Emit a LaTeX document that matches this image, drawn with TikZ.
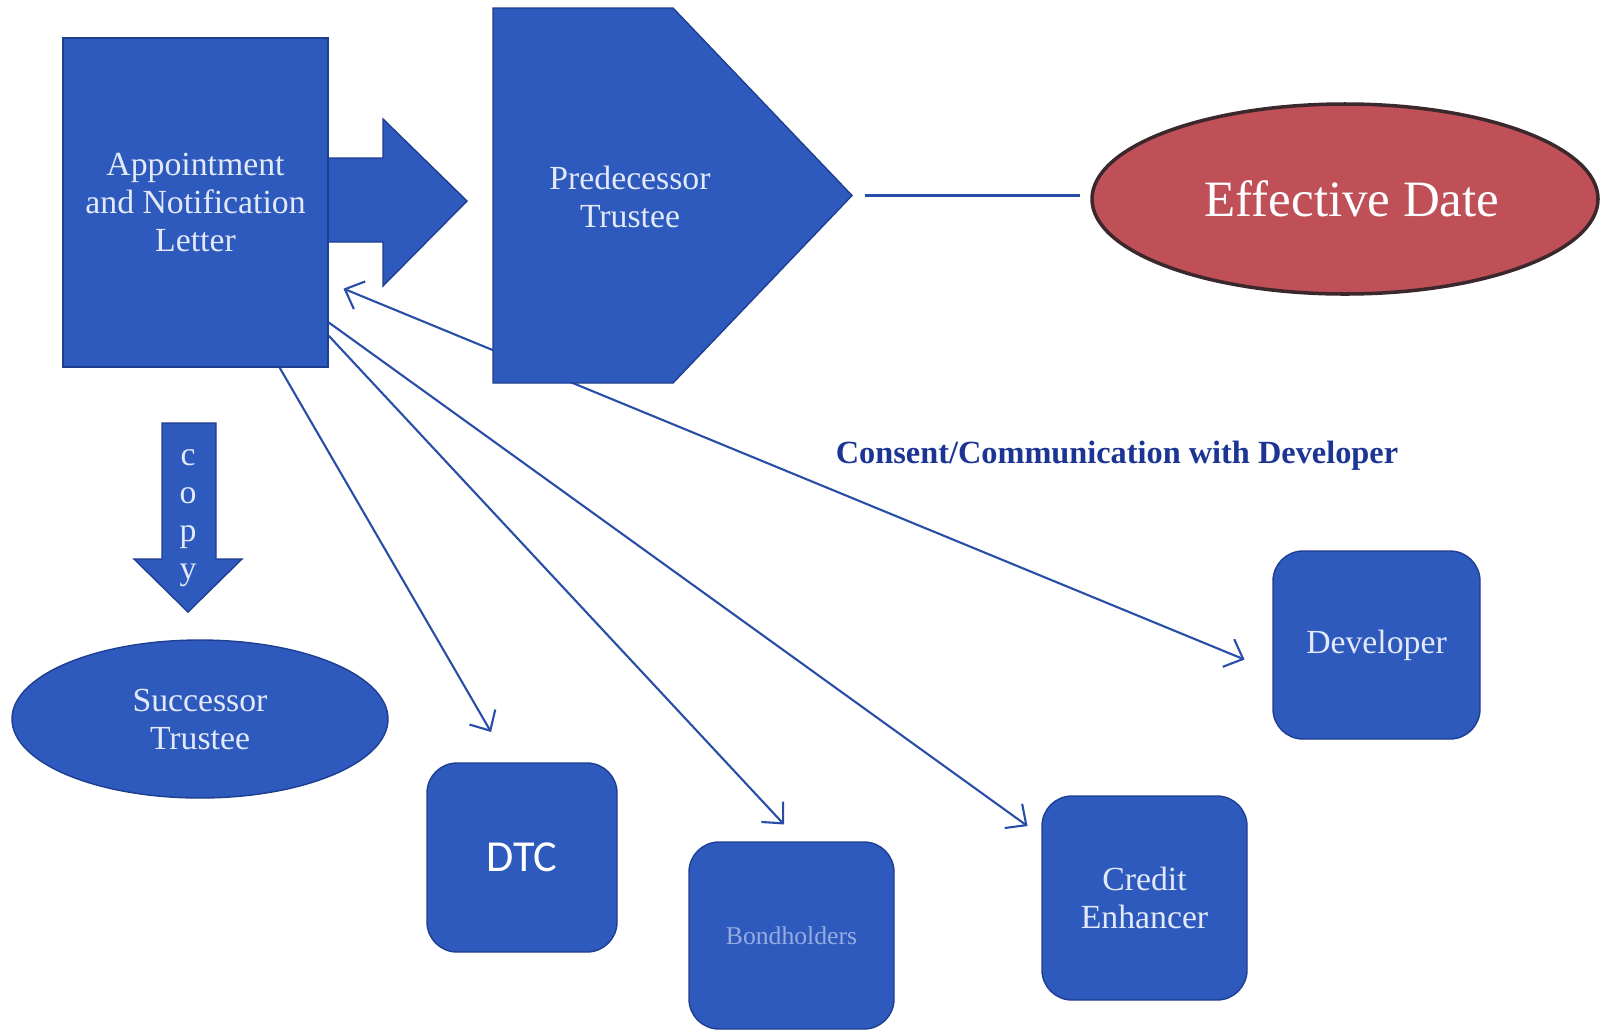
\documentclass[tikz,border=0pt]{standalone}
\usepackage{fontspec}
\setmainfont{Liberation Serif}
\newfontfamily\dtcfont{Carlito}
\usetikzlibrary{shapes.geometric}
\usetikzlibrary{arrows.meta}
\definecolor{boxblue}{RGB}{46,90,190}
\definecolor{boxedge}{RGB}{30,62,145}
\definecolor{linkblue}{RGB}{40,78,168}
\definecolor{datered}{RGB}{192,80,88}
\definecolor{dateedge}{RGB}{58,40,44}
\definecolor{paletext}{RGB}{226,233,249}
\definecolor{bondtext}{RGB}{150,172,225}
\definecolor{notetext}{RGB}{28,52,148}
\tikzset{
    boxtext/.style={
        text=paletext,
        align=center,
        font=\fontsize{9.6}{10.8}\selectfont},
    box/.style={
        boxtext,
        draw=boxedge,
        fill=boxblue,
        line width=0.4pt},
    roundbox/.style={
        box,
        rounded corners=0.3cm},
    blockarrow/.style={
        draw=boxedge,
        fill=boxblue,
        line width=0.4pt},
    every edge/.style={
        draw=linkblue,
        ->,>={Straight Barb[length=4.5pt,width=8.5pt]},
        line width=0.6pt}}

\begin{document}
\begin{tikzpicture}
        \useasboundingbox (0,0) rectangle (16,10.32);

        % block arrow behind the letter
        \draw[blockarrow] (3.26,8.74) -- (3.83,8.74) -- (3.83,9.13) -- (4.67,8.31)
            -- (3.83,7.46) -- (3.83,7.90) -- (3.26,7.90) -- cycle;

        \node[box, minimum width=2.65cm, minimum height=3.29cm] (letter) at (1.955,8.295) {Appointment\\and Notification\\Letter};
        \node[box, ellipse, minimum width=3.76cm, minimum height=1.58cm] (succ) at (2.00,3.13) {Successor\\Trustee};
        \node[roundbox, minimum width=1.90cm, minimum height=1.89cm,
            text=white, font=\dtcfont\fontsize{12.6}{14}\selectfont] (dtc) at (5.22,1.745) {DTC};
        \node[roundbox, minimum width=2.05cm, minimum height=1.87cm,
            text=bondtext, font=\fontsize{7.3}{8.5}\selectfont] (bond) at (7.915,0.965) {Bondholders};
        \node[roundbox, minimum width=2.05cm, minimum height=2.04cm] (credit) at (11.445,1.34) {Credit\\Enhancer};
        \node[roundbox, minimum width=2.07cm, minimum height=1.88cm] (dev) at (13.765,3.87) {Developer};
        \node[ellipse, draw=dateedge, line width=1pt, fill=datered, text=white,
            minimum width=5.06cm, minimum height=1.90cm,
            font=\fontsize{14.5}{17}\selectfont] (eff) at (13.45,8.33) {\hspace*{0.14cm}Effective Date};
        \node[text=notetext, font=\bfseries\fontsize{9.2}{11}\selectfont] (consent) at (11.17,5.76) {Consent/Communication with Developer};

        % copy arrow
        \draw[blockarrow] (1.62,6.09) -- (2.16,6.09) -- (2.16,4.73) -- (2.42,4.73)
            -- (1.88,4.20) -- (1.34,4.73) -- (1.62,4.73) -- cycle;
        \node[boxtext] (copy) at (1.88,5.14) {c\\o\\p\\y};

        \draw (letter.-63) edge[shorten >=0.35cm] (dtc.98);
        \draw (letter.-45.6) edge[shorten >=0.23cm] (bond.85.5);
        \draw (letter.-42) edge[shorten >=0.17cm] (credit.149.3);
        \draw (letter.-31) edge[<->, shorten <=0.16cm, shorten >=0.30cm] (dev.-166.7);

        % predecessor in front of the developer link
        \draw[blockarrow] (4.93,10.24) -- (6.73,10.24) -- (8.52,8.365)
            -- (6.73,6.49) -- (4.93,6.49) -- cycle;
        \node[boxtext] (pred) at (6.30,8.35) {Predecessor\\Trustee};
        \coordinate (predtip) at (8.52,8.365);

        \draw (predtip) edge[-, line width=1.1pt, shorten <=0.13cm, shorten >=0.10cm] (predtip -| eff.west);
    \end{tikzpicture}
\end{document}
